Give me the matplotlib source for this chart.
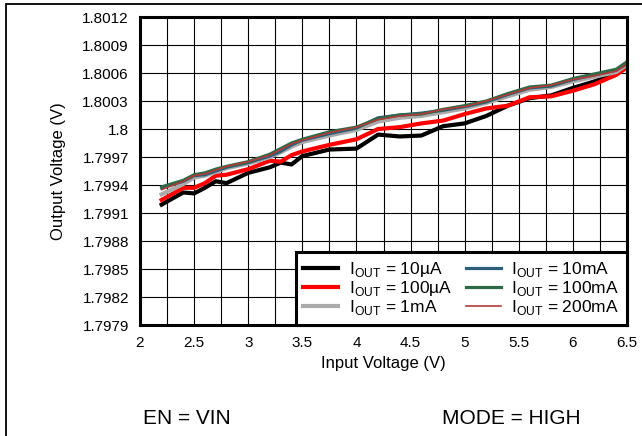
import matplotlib
matplotlib.use("Agg")
import matplotlib.pyplot as plt
from matplotlib.patches import Rectangle

plt.rcParams['font.family'] = ['Liberation Sans', 'DejaVu Sans']
plt.rcParams['mathtext.fontset'] = 'custom'
plt.rcParams['mathtext.rm'] = 'Liberation Sans'

# input voltage (V)
vin = [2.2, 2.4, 2.5, 2.6, 2.7, 2.8, 3.0, 3.2, 3.3, 3.4, 3.5, 3.75, 4.0,
       4.2, 4.4, 4.6, 4.8, 5.0, 5.2, 5.4, 5.6, 5.8, 6.0, 6.2, 6.4, 6.5]

# output voltage (V) per load current
v_10ua = [1.79919, 1.79932, 1.79931, 1.79937, 1.79944, 1.79942, 1.79953, 1.79959, 1.79964,
          1.79962, 1.79971, 1.79978, 1.79979, 1.79994, 1.79992, 1.79993, 1.80003, 1.80006,
          1.80014, 1.80025, 1.80033, 1.80036, 1.80044, 1.80051, 1.80060, 1.80071]
v_100ua = [1.79924, 1.79937, 1.79937, 1.79942, 1.79950, 1.79951, 1.79957, 1.79966, 1.79965,
           1.79972, 1.79976, 1.79983, 1.79989, 1.80000, 1.80002, 1.80006, 1.80009, 1.80016,
           1.80022, 1.80025, 1.80034, 1.80035, 1.80041, 1.80048, 1.80058, 1.80066]
v_1ma = [1.79930, 1.79941, 1.79948, 1.79950, 1.79954, 1.79958, 1.79963, 1.79970, 1.79975,
         1.79981, 1.79986, 1.79993, 1.79999, 1.80008, 1.80012, 1.80014, 1.80018, 1.80022,
         1.80028, 1.80035, 1.80042, 1.80045, 1.80051, 1.80056, 1.80061, 1.80069]
v_10ma = [1.79937, 1.79944, 1.79950, 1.79951, 1.79955, 1.79959, 1.79964, 1.79971, 1.79976,
          1.79983, 1.79988, 1.79995, 1.80001, 1.80012, 1.80015, 1.80017, 1.80020, 1.80024,
          1.80029, 1.80037, 1.80044, 1.80046, 1.80053, 1.80058, 1.80063, 1.80070]
v_100ma = [1.79938, 1.79945, 1.79951, 1.79953, 1.79957, 1.79960, 1.79965, 1.79973, 1.79979,
           1.79985, 1.79989, 1.79997, 1.80002, 1.80011, 1.80015, 1.80016, 1.80021, 1.80025,
           1.80030, 1.80038, 1.80045, 1.80047, 1.80054, 1.80059, 1.80064, 1.80072]
v_200ma = [1.79935, 1.79944, 1.79950, 1.79952, 1.79956, 1.79960, 1.79965, 1.79972, 1.79978,
           1.79984, 1.79988, 1.79996, 1.80002, 1.80010, 1.80014, 1.80016, 1.80021, 1.80024,
           1.80030, 1.80037, 1.80044, 1.80047, 1.80053, 1.80057, 1.80062, 1.80070]

labels = ["10µA", "100µA", "1mA", "10mA", "100mA", "200mA"]
colors = ["#000000", "#ff0000", "#aaaaaa", "#2c5f7c", "#2d6a47", "#b23a3a"]
widths = [3.0, 3.0, 3.0, 2.3, 2.3, 1.2]

yticks = [1.7979, 1.7982, 1.7985, 1.7988, 1.7991, 1.7994, 1.7997, 1.8,
          1.8003, 1.8006, 1.8009, 1.8012]
ytick_labels = ["1.7979", "1.7982", "1.7985", "1.7988", "1.7991", "1.7994", "1.7997", "1.8",
                "1.8003", "1.8006", "1.8009", "1.8012"]
xticks = [2, 2.5, 3, 3.5, 4, 4.5, 5, 5.5, 6, 6.5]
xtick_labels = ["2", "2.5", "3", "3.5", "4", "4.5", "5", "5.5", "6", "6.5"]
xminor = [2.25, 2.75, 3.25, 3.75, 4.25, 4.75, 5.25, 5.75, 6.25]

fig = plt.figure(figsize=(6.42, 4.36), dpi=100)
ax = fig.add_axes([140/642, 1-325/436, 487/642, 308/436])

series = [v_10ua, v_100ua, v_1ma, v_10ma, v_100ma, v_200ma]
for ys, lab, c, w in zip(series, labels, colors, widths):
    ax.plot(vin, ys, color=c, lw=w, label=r"I$_{\mathregular{OUT}}$ = " + lab, zorder=3)

ax.set_xlim(2, 6.5)
ax.set_ylim(1.7979, 1.8012)
ax.set_xticks(xticks)
ax.set_xticklabels(xtick_labels)
ax.set_xticks(xminor, minor=True)
ax.set_yticks(yticks)
ax.set_yticklabels(ytick_labels)
ax.tick_params(which='both', length=0, labelsize=11, pad=8)
ax.grid(True, which='both', color='black', lw=0.8)
ax.set_axisbelow(True)
for s in ax.spines.values():
    s.set_linewidth(2.2)
    s.set_zorder(5)

ax.set_xlabel("Input Voltage (V)", fontsize=12, labelpad=4)
ax.set_ylabel("Output Voltage (V)", fontsize=12, labelpad=12)

leg = ax.legend(loc='lower right', bbox_to_anchor=(1, 0), borderaxespad=0, ncol=2,
                fontsize=12.5, handlelength=2.0, handletextpad=0.6, columnspacing=0.8,
                labelspacing=0.0, fancybox=False, framealpha=1, edgecolor='black',
                borderpad=0.45)
leg.get_frame().set_linewidth(2.2)
leg.set_zorder(6)

fig.text(187/642, 1-418/436, "EN = VIN", fontsize=15, ha='center', va='center')
fig.text(511/642, 1-418/436, "MODE = HIGH", fontsize=15, ha='center', va='center')

# outer frame
fig.patches.append(Rectangle((6/642, -0.1), 1.2, (1-4/436) + 0.1, transform=fig.transFigure,
                             fill=False, edgecolor='black', lw=1.3))

fig.savefig("out.png", dpi=100)
